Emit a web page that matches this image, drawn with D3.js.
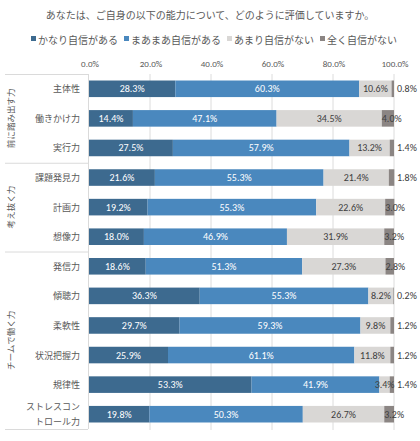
<!DOCTYPE html>
<html>
<head>
<meta charset="utf-8">
<script src="https://cdn.jsdelivr.net/npm/d3@7"></script>
<style>
  body { margin: 0; background: #fff; }
  svg { font-family: "Noto Sans CJK JP", "Noto Sans", sans-serif; }
</style>
</head>
<body>
<svg id="chart" width="420" height="441"></svg>
<script>
const categories = ["主体性", "働きかけ力", "実行力", "課題発見力", "計画力", "想像力",
  "発信力", "傾聴力", "柔軟性", "状況把握力", "規律性", "ストレスコントロール力"];
const categoryLines = [["主体性"], ["働きかけ力"], ["実行力"], ["課題発見力"], ["計画力"], ["想像力"],
  ["発信力"], ["傾聴力"], ["柔軟性"], ["状況把握力"], ["規律性"], ["ストレスコン", "トロール力"]];
const seriesNames = ["かなり自信がある", "まあまあ自信がある", "あまり自信がない", "全く自信がない"];
const veryConfident = [28.3, 14.4, 27.5, 21.6, 19.2, 18.0, 18.6, 36.3, 29.7, 25.9, 53.3, 19.8];
const fairlyConfident = [60.3, 47.1, 57.9, 55.3, 55.3, 46.9, 51.3, 55.3, 59.3, 61.1, 41.9, 50.3];
const notVeryConfident = [10.6, 34.5, 13.2, 21.4, 22.6, 31.9, 27.3, 8.2, 9.8, 11.8, 3.4, 26.7];
const notConfident = [0.8, 4.0, 1.4, 1.8, 3.0, 3.2, 2.8, 0.2, 1.2, 1.2, 1.4, 3.2];
const groupNames = ["前に踏み出す力", "考え抜く力", "チームで働く力"];
const groupSizes = [3, 3, 6];
const xTicks = [0, 20, 40, 60, 80, 100];

const title = "あなたは、ご自身の以下の能力について、どのように評価していますか。";
const colors = ["#3d6a8f", "#4a88be", "#d9d7d5", "#8b8583"];
const labelColors = ["#fff", "#fff", "#404040", "#404040"];

const svg = d3.select("#chart");
const x = d3.scaleLinear().domain([0, 100]).range([89, 394]);
const y = d3.scaleBand().domain(categories).range([74, 429]).paddingInner(0.44).paddingOuter(0.22);

// title
svg.append("text")
  .attr("x", 210).attr("y", 19)
  .attr("text-anchor", "middle")
  .attr("font-size", 10)
  .attr("fill", "#595959")
  .text(title);

// legend
const legendX = [31, 124, 227, 320];
const legend = svg.selectAll(".legend")
  .data(seriesNames)
  .enter()
  .append("g")
  .attr("transform", (d, i) => `translate(${legendX[i]},40)`);
legend.append("rect")
  .attr("x", 0).attr("y", -4)
  .attr("width", 5).attr("height", 5)
  .attr("fill", (d, i) => colors[i]);
legend.append("text")
  .attr("x", 7).attr("y", 1)
  .attr("dominant-baseline", "middle")
  .attr("font-size", 10)
  .attr("fill", "#595959")
  .text((d) => d);

// gridlines and axis labels
svg.selectAll(".grid")
  .data(xTicks.slice(1))
  .enter()
  .append("line")
  .attr("x1", (d) => x(d)).attr("x2", (d) => x(d))
  .attr("y1", 74).attr("y2", 430)
  .attr("stroke", "#dcdcdc")
  .attr("stroke-width", 1);

svg.selectAll(".tick-label")
  .data(xTicks)
  .enter()
  .append("text")
  .attr("x", (d) => x(d) + 1).attr("y", 67)
  .attr("text-anchor", "middle")
  .attr("font-size", 9)
  .attr("font-family", "Calibri, 'Liberation Sans', sans-serif")
  .attr("fill", "#595959")
  .text((d) => d.toFixed(1) + "%");

// left label panel
const groupStarts = [0];
groupSizes.forEach((n, i) => groupStarts.push(groupStarts[i] + n));
const boundaryY = (i) => i === 0 ? 74 : (i >= categories.length ? 429 : y(categories[i]) - y.step() * y.paddingInner() / 2);

svg.selectAll(".sep")
  .data(groupStarts)
  .enter()
  .append("line")
  .attr("x1", 5).attr("x2", 88)
  .attr("y1", (d) => boundaryY(d) + 0.5).attr("y2", (d) => boundaryY(d) + 0.5)
  .attr("stroke", "#dadada");

svg.append("line")
  .attr("x1", 88.5).attr("x2", 88.5)
  .attr("y1", 74).attr("y2", 429)
  .attr("stroke", "#dadada");

svg.selectAll(".group-label")
  .data(groupNames)
  .enter()
  .append("text")
  .attr("transform", (d, i) => {
    const cy = (boundaryY(groupStarts[i]) + boundaryY(groupStarts[i + 1])) / 2;
    return `translate(12,${cy}) rotate(-90)`;
  })
  .attr("text-anchor", "middle")
  .attr("dominant-baseline", "middle")
  .attr("font-size", 8.5)
  .attr("fill", "#595959")
  .text((d) => d);

// category labels
const catLabel = svg.selectAll(".cat")
  .data(categories)
  .enter()
  .append("text")
  .attr("text-anchor", "end")
  .attr("font-size", 9)
  .attr("fill", "#595959");
catLabel.selectAll("tspan")
  .data((d, i) => categoryLines[i].map((t, j, arr) => ({ t, j, n: arr.length, cat: d })))
  .enter()
  .append("tspan")
  .attr("x", 80)
  .attr("y", (d) => y(d.cat) + y.bandwidth() / 2 + (d.j - (d.n - 1) / 2) * 15 + 3.5)
  .text((d) => d.t);

// stacked bars
const series = [veryConfident, fairlyConfident, notVeryConfident, notConfident];
const table = categories.map((c, i) => {
  const row = { category: c };
  seriesNames.forEach((s, k) => { row[s] = series[k][i]; });
  return row;
});
const stacked = d3.stack().keys(seriesNames)(table);

const layer = svg.selectAll(".layer")
  .data(stacked)
  .enter()
  .append("g")
  .attr("fill", (d, i) => colors[i]);

layer.selectAll("rect")
  .data((d) => d)
  .enter()
  .append("rect")
  .attr("x", (d) => x(d[0]))
  .attr("y", (d) => y(d.data.category))
  .attr("width", (d) => x(d[1]) - x(d[0]))
  .attr("height", y.bandwidth());

// value labels
stacked.forEach((s, k) => {
  svg.selectAll(".lbl" + k)
    .data(s)
    .enter()
    .append("text")
    .attr("x", (d) => {
      if (k < 3) return (x(d[0]) + x(d[1])) / 2;
      const v = d[1] - d[0];
      return v >= 2.5 ? x(d[0]) : x(100) + 3;
    })
    .attr("y", (d) => y(d.data.category) + y.bandwidth() / 2 + 3.5)
    .attr("text-anchor", k < 3 ? "middle" : "start")
    .attr("font-size", 10)
    .attr("font-family", "Calibri, 'Liberation Sans', sans-serif")
    .attr("fill", labelColors[k])
    .text((d) => (d[1] - d[0]).toFixed(1) + "%");
});
</script>
</body>
</html>
